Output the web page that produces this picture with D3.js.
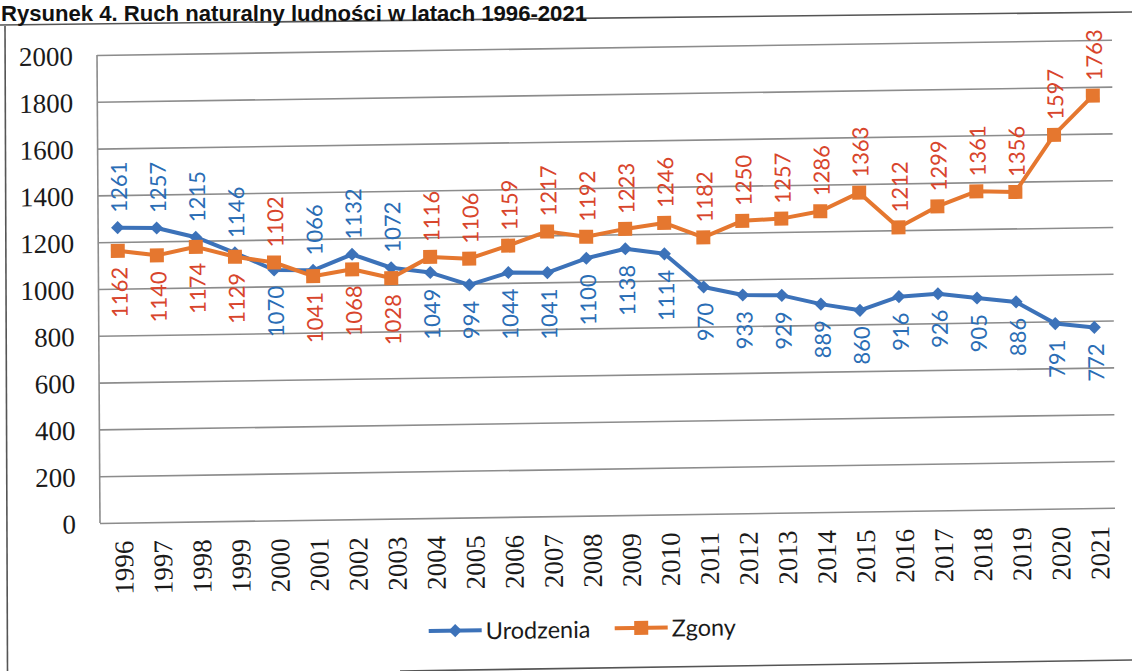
<!DOCTYPE html>
<html><head><meta charset="utf-8">
<script src="https://cdn.jsdelivr.net/npm/d3@7"></script>
<style>
html,body{margin:0;padding:0;background:#fff;}
svg{display:block;}
</style></head>
<body>
<svg id="chart" width="1132" height="671"></svg>
<script>
const title = "Rysunek 4. Ruch naturalny ludności w latach 1996-2021";
const years = ["1996","1997","1998","1999","2000","2001","2002","2003","2004","2005","2006","2007","2008","2009","2010","2011","2012","2013","2014","2015","2016","2017","2018","2019","2020","2021"];
const urodzenia = [1261,1257,1215,1146,1070,1066,1132,1072,1049,994,1044,1041,1100,1138,1114,970,933,929,889,860,916,926,905,886,791,772];
const zgony = [1162,1140,1174,1129,1102,1041,1068,1028,1116,1106,1159,1217,1192,1223,1246,1182,1250,1257,1286,1363,1212,1299,1361,1356,1597,1763];
const yTicks = [0,200,400,600,800,1000,1200,1400,1600,1800,2000];
const seriesNames = ["Urodzenia","Zgony"];

const svg = d3.select("#chart");
const W = 1132, H = 671;
const pLeft = 100, pRight = 1115, pTop = 55, pBottom = 523;

// scan frame
const frame = svg.append("g").attr("stroke","#555").attr("stroke-width",1.6).attr("fill","none");
frame.append("line").attr("x1",0).attr("y1",25).attr("x2",W).attr("y2",12);
frame.append("line").attr("x1",5).attr("y1",26).attr("x2",7.5).attr("y2",H);
frame.append("line").attr("x1",400).attr("y1",671).attr("x2",W).attr("y2",660);

svg.append("text").text(title)
  .attr("x",1).attr("y",21)
  .attr("font-family","'Liberation Sans Narrow','Arial Narrow','Liberation Sans',sans-serif")
  .attr("font-weight","bold").attr("font-size",22).attr("fill","#111")
  .attr("textLength",586).attr("lengthAdjust","spacingAndGlyphs");

const g = svg.append("g")
  .attr("transform",`translate(${pLeft},${pBottom}) matrix(1,-0.015,0.0064,1,0,0) translate(${-pLeft},${-pBottom})`);

const x = d3.scalePoint().domain(years).range([pLeft,pRight]).padding(0.5);
const y = d3.scaleLinear().domain([0,2000]).range([pBottom,pTop]);

// gridlines
const grid = g.append("g").attr("transform",`translate(${pLeft},0)`)
  .call(d3.axisLeft(y).tickValues(yTicks).tickSize(-(pRight-pLeft)).tickFormat(""));
grid.select(".domain").remove();
grid.selectAll(".tick line").attr("stroke","#8c8c8c").attr("stroke-width",1.6);

// left axis line
g.append("line").attr("x1",pLeft).attr("x2",pLeft).attr("y1",pTop).attr("y2",pBottom)
  .attr("stroke","#8c8c8c").attr("stroke-width",1.6);

// y tick labels
const ya = g.append("g").attr("transform",`translate(${pLeft-24},0)`)
  .call(d3.axisLeft(y).tickValues(yTicks).tickSize(0).tickPadding(0).tickFormat(d3.format("d")));
ya.select(".domain").remove();
ya.selectAll("text").attr("font-family","'Liberation Serif','Times New Roman',serif")
  .attr("font-size",27).attr("fill","#1a1a1a").attr("dy","0.35em");

// x tick labels
const xa = g.append("g").attr("transform",`translate(0,${pBottom})`)
  .call(d3.axisBottom(x).tickSize(0).tickPadding(0));
xa.select(".domain").remove();
xa.selectAll("text")
  .attr("font-family","'Liberation Serif','Times New Roman',serif")
  .attr("font-size",27).attr("fill","#1a1a1a")
  .attr("text-anchor","end").attr("dominant-baseline","central")
  .attr("transform","translate(4,18) rotate(-90)")
  .attr("x",0).attr("y",0).attr("dy",null);

const blue = "#3c72b9", orange = "#e5772f";
const blueLbl = "#2a6db5", orangeLbl = "#d8452c";

const line = d3.line().x((d,i)=>x(years[i])).y(d=>y(d));
g.append("path").datum(urodzenia).attr("d",line).attr("fill","none")
  .attr("stroke",blue).attr("stroke-width",4).attr("stroke-linejoin","round");
g.append("path").datum(zgony).attr("d",line).attr("fill","none")
  .attr("stroke",orange).attr("stroke-width",4).attr("stroke-linejoin","round");

const diamond = d3.symbol().type(d3.symbolDiamond2).size(110);
g.append("g").selectAll("path").data(urodzenia).join("path")
  .attr("d",diamond).attr("fill",blue)
  .attr("transform",(d,i)=>`translate(${x(years[i])},${y(d)})`);
g.append("g").selectAll("rect").data(zgony).join("rect")
  .attr("x",(d,i)=>x(years[i])-7).attr("y",d=>y(d)-7)
  .attr("width",14).attr("height",14).attr("fill",orange);

// data labels: higher value above, lower below
function labels(vals, other, color){
  g.append("g").selectAll("text").data(vals).join("text")
    .text(d=>d)
    .attr("font-family","Lato,'Open Sans',sans-serif").attr("font-size",22)
    .attr("fill",color).attr("dominant-baseline","central")
    .attr("text-anchor",(d,i)=> d>=other[i] ? "start" : "end")
    .attr("transform",(d,i)=>{
      const px = x(years[i]), py = y(d);
      const off = d>=other[i] ? -15 : 16;
      return `translate(${px+1},${py+off}) rotate(-90)`;
    });
}
labels(urodzenia, zgony, blueLbl);
labels(zgony, urodzenia, orangeLbl);

// legend
const leg = g.append("g").attr("transform","translate(0,636)");
const legItems = [
  {name:seriesNames[0], color:blue, x0:428, type:"diamond"},
  {name:seriesNames[1], color:orange, x0:614, type:"square"}
];
legItems.forEach(it=>{
  const gi = leg.append("g").attr("transform",`translate(${it.x0},0)`);
  gi.append("line").attr("x1",0).attr("x2",53).attr("y1",0).attr("y2",0)
    .attr("stroke",it.color).attr("stroke-width",4);
  if(it.type==="diamond") gi.append("path").attr("d",diamond).attr("fill",it.color).attr("transform","translate(26.5,0)");
  else gi.append("rect").attr("x",19.5).attr("y",-7).attr("width",14).attr("height",14).attr("fill",it.color);
  gi.append("text").text(it.name).attr("x",57).attr("y",0).attr("dominant-baseline","central")
    .attr("font-family","Lato,'Open Sans',sans-serif").attr("font-size",23.5).attr("fill","#1a1a1a");
});
</script>
</body></html>
